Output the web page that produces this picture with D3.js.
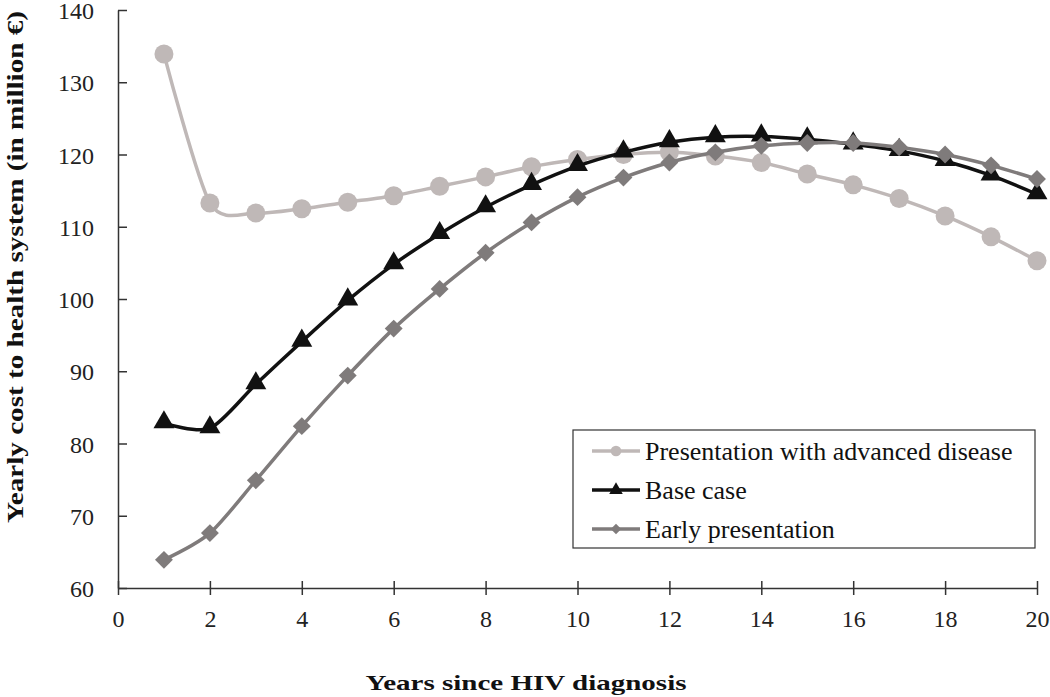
<!DOCTYPE html>
<html><head><meta charset="utf-8">
<script src="https://cdn.jsdelivr.net/npm/d3@7"></script>
<style>body{margin:0;background:#fff}svg{display:block}</style>
</head><body><svg id="c" width="1050" height="697"></svg>
<script>
const years = d3.range(1, 21);
const advanced = [133.9,113.3,111.9,112.5,113.4,114.3,115.6,116.9,118.3,119.3,120.0,120.3,119.8,118.9,117.3,115.8,113.9,111.5,108.6,105.3];
const baseCase = [82.8,82.1,88.2,94.1,99.8,104.8,109.0,112.7,115.8,118.4,120.3,121.7,122.4,122.5,122.1,121.4,120.5,119.1,117.1,114.5];
const early = [63.9,67.6,74.9,82.4,89.4,95.9,101.4,106.4,110.6,114.1,116.8,118.9,120.3,121.2,121.6,121.6,121.0,120.0,118.5,116.6];
const seriesNames = ["Presentation with advanced disease","Base case","Early presentation"];
const xTicks = d3.range(0, 21, 2);
const yTicks = d3.range(60, 141, 10);

const svg = d3.select("#c");
const font = "'Liberation Serif','Times New Roman',serif";
const x = d3.scaleLinear().domain([0,20]).range([118,1037]);
const y = d3.scaleLinear().domain([60,140]).range([588,10]);

const series = [
  {name: seriesNames[0], values: advanced, color:"#bfb8b7", shape:"circle"},
  {name: seriesNames[1], values: baseCase, color:"#111111", shape:"triangle"},
  {name: seriesNames[2], values: early, color:"#7f7b7b", shape:"diamond"}
];

// axes
const axisColor = "#333";
const xAxis = svg.append("g").attr("transform","translate(0,588)")
  .call(d3.axisBottom(x).tickValues(xTicks).tickSizeInner(7).tickSizeOuter(0));
const yAxis = svg.append("g").attr("transform","translate(118,0)")
  .call(d3.axisLeft(y).tickValues(yTicks).tickSizeInner(6).tickSizeOuter(0).tickPadding(18));
[xAxis,yAxis].forEach(a=>{
  a.select(".domain").attr("stroke",axisColor).attr("stroke-width",1.5);
  a.selectAll(".tick line").attr("stroke",axisColor).attr("stroke-width",1.5);
  a.selectAll(".tick text").attr("fill","#222").style("font-family",font).style("font-size","24px");
});
xAxis.selectAll(".tick line").attr("y1",-7);
xAxis.selectAll(".tick text").attr("y",39).attr("dy","0");
yAxis.selectAll(".tick line").attr("x2",9);
yAxis.selectAll(".tick text").attr("dy","0.36em");

const syms = {
  circle: d3.symbol().type(d3.symbolCircle).size(Math.PI*9.5*9.5),
  triangle: d3.symbol().type(d3.symbolTriangle).size(190),
  diamond: d3.symbol().type(d3.symbolSquare).size(160)
};
const line = d3.line().x((d,i)=>x(years[i])).y(d=>y(d)).curve(d3.curveCardinal.tension(0.2));

series.forEach(s=>{
  svg.append("path").datum(s.values).attr("d",line)
    .attr("fill","none").attr("stroke",s.color).attr("stroke-width",3.5);
  svg.append("g").selectAll("path").data(s.values).join("path")
    .attr("d",syms[s.shape])
    .attr("transform",(d,i)=>`translate(${x(years[i])},${y(d)})${s.shape==="diamond"?" rotate(45)":""}${s.shape==="triangle"?" translate(0,-1)":""}`)
    .attr("fill",s.color);
});

// legend
const lg = svg.append("g");
lg.append("rect").attr("x",573).attr("y",430).attr("width",462).attr("height",118)
  .attr("fill","#fff").attr("stroke","#333").attr("stroke-width",1.2);
series.forEach((s,i)=>{
  const yy = 451 + i*39;
  lg.append("line").attr("x1",592).attr("x2",640).attr("y1",yy).attr("y2",yy)
    .attr("stroke",s.color).attr("stroke-width",3.5);
  const sc = s.shape==="circle" ? d3.symbol().type(d3.symbolCircle).size(90)
           : s.shape==="triangle" ? d3.symbol().type(d3.symbolTriangle).size(80)
           : d3.symbol().type(d3.symbolSquare).size(55);
  lg.append("path").attr("d",sc).attr("fill",s.color)
    .attr("transform",`translate(616,${yy})${s.shape==="diamond"?" rotate(45)":""}`);
  lg.append("text").attr("x",645).attr("y",yy).attr("dy","0.35em")
    .style("font-family",font).style("font-size","26px").attr("fill","#111").text(s.name);
});

// axis titles
svg.append("text").attr("x",526).attr("y",690).attr("text-anchor","middle")
  .style("font-family",font).style("font-size","22px").style("font-weight","bold").attr("fill","#111")
  .attr("textLength",321).attr("lengthAdjust","spacingAndGlyphs")
  .text("Years since HIV diagnosis");
svg.append("text").attr("transform","translate(23,267) rotate(-90)").attr("text-anchor","middle")
  .style("font-family",font).style("font-size","23px").style("font-weight","bold").attr("fill","#111")
  .attr("textLength",512).attr("lengthAdjust","spacingAndGlyphs")
  .text("Yearly cost to health system (in million €)");
</script></body></html>
